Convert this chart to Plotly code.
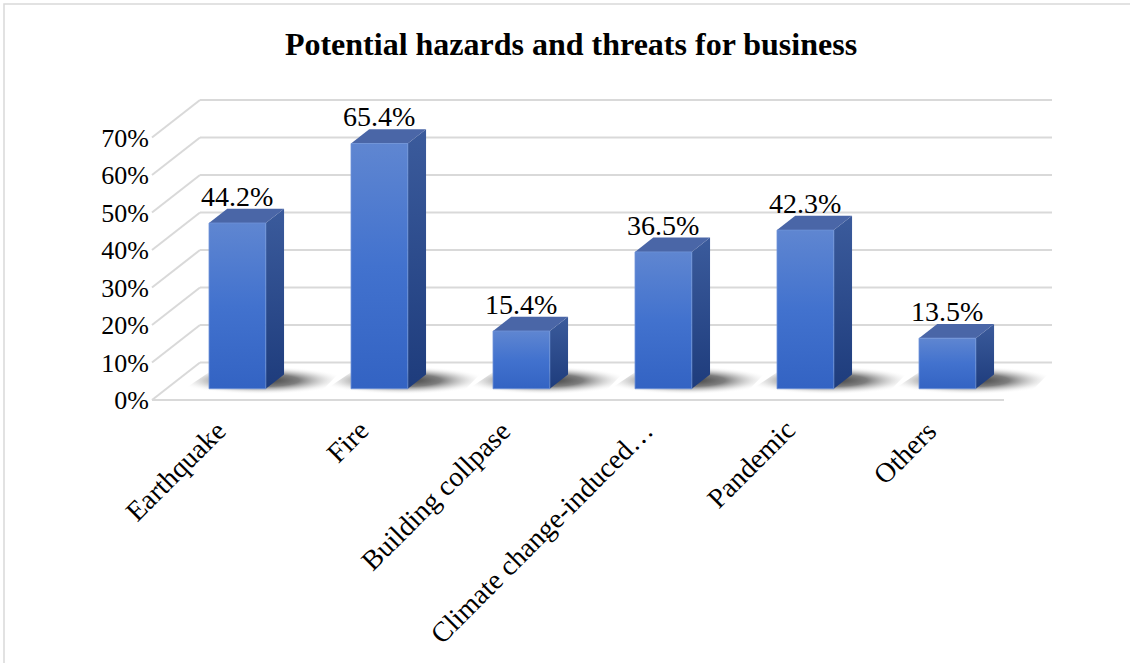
import plotly.graph_objects as go

# Chart data
categories = ["Earthquake", "Fire", "Building collpase",
              "Climate change-induced…", "Pandemic", "Others"]
values = [44.2, 65.4, 15.4, 36.5, 42.3, 13.5]
tick_values = [0, 10, 20, 30, 40, 50, 60, 70]
tick_labels = [f"{t}%" for t in tick_values]
title_text = "Potential hazards and threats for business"

# Pseudo-3D projection: depth d in [0, 1] shifts a point back/up
DX = 48 / 142      # horizontal shift of full depth, in category units
DY = 10.0          # vertical shift of full depth, in percent units
D_FRONT, D_BACK = 0.30, 0.68
BAR_W = 0.40
FONT = "Liberation Serif"
GRID = "#D9D9D9"


def proj(c, v, d):
    return c + d * DX, v + d * DY


def poly(points):
    xs = [p[0] for p in points] + [points[0][0]]
    ys = [p[1] for p in points] + [points[0][1]]
    return xs, ys


fig = go.Figure()

# Walls and floor gridlines
n = len(categories)
left, right = -0.5, n - 0.5
for t in tick_values:
    x0, y0 = proj(left, t, 1)
    x1, y1 = proj(right, t, 1)
    fig.add_trace(go.Scatter(x=[x0, x1], y=[y0, y1], mode="lines",
                             line=dict(color=GRID, width=2), hoverinfo="skip"))
    xa, ya = proj(left, t, 0)
    fig.add_trace(go.Scatter(x=[xa, x0], y=[ya, y0], mode="lines",
                             line=dict(color=GRID, width=2), hoverinfo="skip"))
fx0, fy0 = proj(left, 0, 0)
fx1, fy1 = proj(right, 0, 0)
fig.add_trace(go.Scatter(x=[fx0, fx1], y=[fy0, fy1], mode="lines",
                         line=dict(color=GRID, width=2), hoverinfo="skip"))

# Soft floor shadows behind each bar
for i, v in enumerate(values):
    pts = [proj(i - 0.38, 0, 0.15), proj(i + 0.62, 0, 0.15),
           proj(i + 0.56, 0, 0.90), proj(i - 0.34, 0, 0.90)]
    xs, ys = poly(pts)
    fig.add_trace(go.Scatter(
        x=xs, y=ys, mode="lines", fill="toself", line=dict(width=0),
        fillgradient=dict(type="radial",
                          colorscale=[[0, "rgba(20,20,20,0.85)"],
                                      [0.45, "rgba(40,40,40,0.6)"],
                                      [0.8, "rgba(130,130,130,0.15)"],
                                      [1, "rgba(255,255,255,0)"]]),
        hoverinfo="skip"))

# Bars: side, top, front faces
for i, v in enumerate(values):
    l, r = i - BAR_W / 2, i + BAR_W / 2
    side = [proj(r, 0, D_FRONT), proj(r, 0, D_BACK),
            proj(r, v, D_BACK), proj(r, v, D_FRONT)]
    top = [proj(l, v, D_FRONT), proj(r, v, D_FRONT),
           proj(r, v, D_BACK), proj(l, v, D_BACK)]
    front = [proj(l, 0, D_FRONT), proj(r, 0, D_FRONT),
             proj(r, v, D_FRONT), proj(l, v, D_FRONT)]
    xs, ys = poly(side)
    fig.add_trace(go.Scatter(
        x=xs, y=ys, mode="lines", fill="toself", line=dict(width=0),
        fillgradient=dict(type="vertical",
                          colorscale=[[0, "#1E3C7C"], [1, "#3B5B9C"]]),
        hoverinfo="skip"))
    xs, ys = poly(top)
    fig.add_trace(go.Scatter(
        x=xs, y=ys, mode="lines", fill="toself", line=dict(width=0),
        fillcolor="#4A66A7", hoverinfo="skip"))
    xs, ys = poly(front)
    fig.add_trace(go.Scatter(
        x=xs, y=ys, mode="lines", fill="toself",
        line=dict(width=0.8, color="#6F93D8"),
        fillgradient=dict(type="vertical",
                          colorscale=[[0, "#3363C3"], [0.5, "#4272CE"],
                                      [1, "#5F86D1"]]),
        hoverinfo="skip"))

# Value labels above each bar
for i, v in enumerate(values):
    cx, _ = proj(i, 0, D_FRONT)
    _, ty = proj(i, v, D_BACK)
    fig.add_annotation(x=cx, y=ty, text=f"{v}%", showarrow=False,
                       xanchor="center", yanchor="bottom", yshift=-5,
                       font=dict(family=FONT, size=28, color="black"))

# Rotated category labels
for i, name in enumerate(categories):
    cx, _ = proj(i, 0, D_FRONT)
    fig.add_annotation(x=cx - 0.015, xref="x", y=-0.022, yref="paper",
                       text=name, showarrow=False, textangle=-45,
                       xanchor="right", yanchor="top",
                       font=dict(family=FONT, size=28, color="black"))

fig.update_layout(
    width=1130, height=663,
    margin=dict(l=150, r=70, t=95, b=258),
    paper_bgcolor="white", plot_bgcolor="white",
    showlegend=False,
    title=dict(text=f"<b>{title_text}</b>", x=571 / 1130, xanchor="center",
               y=1 - 44 / 663, yanchor="middle", yref="container",
               font=dict(family=FONT, size=32, color="black")),
    xaxis=dict(range=[-0.5141, 5.8944], showgrid=False, zeroline=False,
               showticklabels=False, showline=False, fixedrange=True),
    yaxis=dict(range=[-1.3333, 81.3333], showgrid=False, zeroline=False,
               tickvals=tick_values, ticktext=tick_labels, ticks="",
               showline=False, fixedrange=True,
               tickfont=dict(family=FONT, size=26, color="black")),
    shapes=[dict(type="rect", xref="paper", yref="paper",
                 x0=(4 - 150) / 910, x1=(1140 - 150) / 910,
                 y0=(405 - 670) / 310, y1=(405 - 4) / 310,
                 line=dict(color="#D9D9D9", width=1.5), layer="below")],
)

fig.write_html("out.html")
